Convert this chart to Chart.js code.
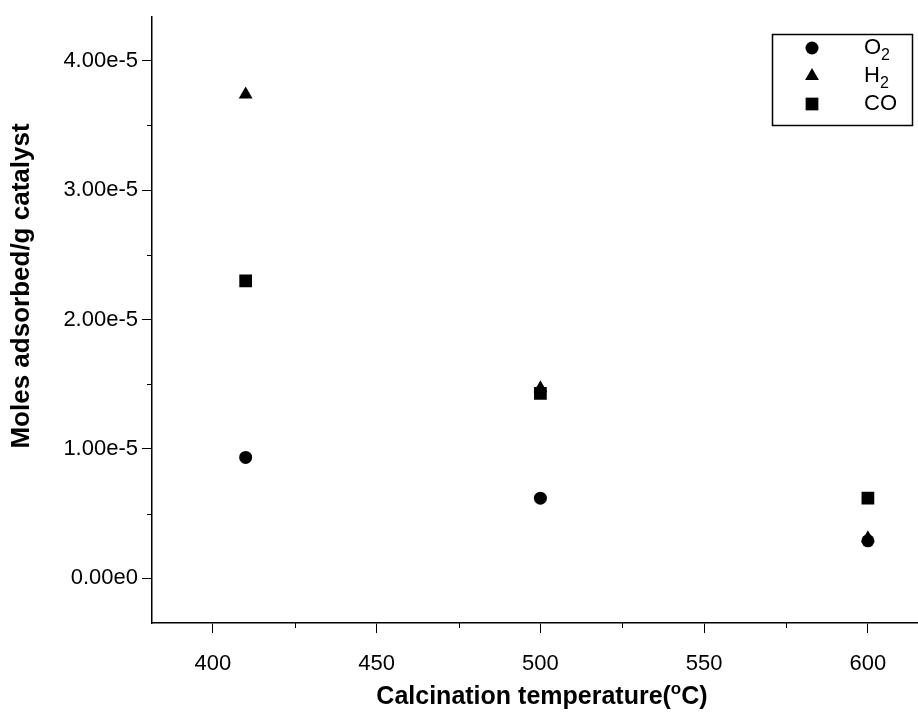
<!DOCTYPE html>
<html>
<head>
<meta charset="utf-8">
<script src="https://cdn.jsdelivr.net/npm/chart.js@4.4.1/dist/chart.umd.min.js"></script>
<style>
    html, body { margin: 0; padding: 0; background: #fff; }
    #wrap { width: 918px; height: 713px; position: relative; }
</style>
</head>
<body>
<div id="wrap"><canvas id="adsChart"></canvas></div>
<script>
// Calcination temperature (°C)
const temps = [410, 500, 600];

// Moles adsorbed per g catalyst
const o2Values = [0.935e-5, 0.62e-5, 0.29e-5];
const h2Values = [3.74e-5, 1.47e-5, 0.31e-5];
const coValues = [2.30e-5, 1.43e-5, 0.62e-5];

// axis ticks
const xMajorTicks = [400, 450, 500, 550, 600];
const xMinorTicks = [425, 475, 525, 575];
const yMajorTicks = [0, 1e-5, 2e-5, 3e-5, 4e-5];
const yMinorTicks = [0.5e-5, 1.5e-5, 2.5e-5, 3.5e-5];

const FONT = 'Liberation Sans, Arial, sans-serif';

function toPoints(values) {
    return temps.map((t, i) => ({ x: t, y: values[i] }));
}

function fmtExp(v) {
    return v.toExponential(2).replace('e+', 'e');
}

// minor ticks, axis titles and the boxed legend
const extras = {
    id: 'extras',
    afterDraw(chart) {
        const ctx = chart.ctx;
        const xs = chart.scales.x;
        const ys = chart.scales.y;
        const area = chart.chartArea;

        ctx.save();
        ctx.strokeStyle = '#000';
        ctx.lineWidth = 1;
        ctx.beginPath();
        xMinorTicks.forEach(v => {
            const px = Math.round(xs.getPixelForValue(v)) + 0.5;
            ctx.moveTo(px, area.bottom);
            ctx.lineTo(px, area.bottom + 5);
        });
        yMinorTicks.forEach(v => {
            const py = Math.round(ys.getPixelForValue(v)) + 0.5;
            ctx.moveTo(area.left, py);
            ctx.lineTo(area.left - 5, py);
        });
        ctx.stroke();

        ctx.fillStyle = '#000';

        // x title with superscript
        const big = 'bold 25px ' + FONT;
        const small = 'bold 17px ' + FONT;
        const p1 = 'Calcination temperature(';
        const p3 = 'C)';
        ctx.textBaseline = 'alphabetic';
        ctx.font = big;
        const w1 = ctx.measureText(p1).width;
        const w3 = ctx.measureText(p3).width;
        ctx.font = small;
        const w2 = ctx.measureText('o').width;
        let tx = 542 - (w1 + w2 + w3) / 2;
        const ty = 704;
        ctx.textAlign = 'left';
        ctx.font = big;
        ctx.fillText(p1, tx, ty);
        tx += w1;
        ctx.font = small;
        ctx.fillText('o', tx, ty - 10);
        tx += w2;
        ctx.font = big;
        ctx.fillText(p3, tx, ty);

        // y title
        ctx.save();
        ctx.translate(29, 286);
        ctx.rotate(-Math.PI / 2);
        ctx.textAlign = 'center';
        ctx.font = 'bold 26px ' + FONT;
        ctx.fillText('Moles adsorbed/g catalyst', 0, 0);
        ctx.restore();

        // legend
        ctx.lineWidth = 1.5;
        ctx.strokeRect(772.5, 34.5, 140, 91);
        const items = [
            { base: 'O', sub: '2', style: 'circle', radius: 6.5, y: 48 },
            { base: 'H', sub: '2', style: 'triangle', radius: 8, y: 76 },
            { base: 'CO', sub: '', style: 'rect', radius: 9, y: 104 }
        ];
        items.forEach(it => {
            ctx.fillStyle = '#000';
            ctx.strokeStyle = '#000';
            Chart.helpers.drawPoint(ctx, { pointStyle: it.style, radius: it.radius, rotation: 0, borderWidth: 0 }, 812, it.y);
            ctx.textAlign = 'left';
            ctx.textBaseline = 'middle';
            ctx.font = '22px ' + FONT;
            ctx.fillText(it.base, 864, it.y);
            if (it.sub) {
                const bw = ctx.measureText(it.base).width;
                ctx.font = '16px ' + FONT;
                ctx.fillText(it.sub, 864 + bw, it.y + 8);
            }
        });
        ctx.restore();
    }
};

const ctx = document.getElementById('adsChart').getContext('2d');

new Chart(ctx, {
    type: 'scatter',
    data: {
        datasets: [
            {
                label: 'O2',
                data: toPoints(o2Values),
                pointStyle: 'circle',
                pointRadius: 6.5,
                backgroundColor: '#000',
                borderColor: '#000',
                borderWidth: 0,
                order: 0
            },
            {
                label: 'H2',
                data: toPoints(h2Values),
                pointStyle: 'triangle',
                pointRadius: 8,
                backgroundColor: '#000',
                borderColor: '#000',
                borderWidth: 0,
                order: 2
            },
            {
                label: 'CO',
                data: toPoints(coValues),
                pointStyle: 'rect',
                pointRadius: 9,
                backgroundColor: '#000',
                borderColor: '#000',
                borderWidth: 0,
                order: 1
            }
        ]
    },
    options: {
        responsive: true,
        maintainAspectRatio: false,
        animation: false,
        layout: {
            autoPadding: false,
            padding: { top: 12, right: 0, left: 0, bottom: 0 }
        },
        plugins: {
            legend: { display: false },
            tooltip: { enabled: false }
        },
        scales: {
            x: {
                type: 'linear',
                min: 381.4,
                max: 615.3,
                afterBuildTicks: (scale) => {
                    scale.ticks = xMajorTicks.map(v => ({ value: v }));
                },
                afterFit: (scale) => {
                    scale.height = 90;
                    scale.paddingLeft = 0;
                    scale.paddingRight = 0;
                },
                border: { display: true, color: '#000', width: 1.5 },
                grid: {
                    drawOnChartArea: false,
                    drawTicks: true,
                    tickLength: 10,
                    color: '#000'
                },
                ticks: {
                    color: '#000',
                    padding: 18,
                    maxRotation: 0,
                    font: { family: FONT, size: 22 },
                    callback: (v) => String(v)
                }
            },
            y: {
                type: 'linear',
                min: -0.345e-5,
                max: 4.337e-5,
                afterBuildTicks: (scale) => {
                    scale.ticks = yMajorTicks.map(v => ({ value: v }));
                },
                afterFit: (scale) => { scale.width = 152; },
                border: { display: true, color: '#000', width: 1.5 },
                grid: {
                    drawOnChartArea: false,
                    drawTicks: true,
                    tickLength: 10,
                    color: '#000'
                },
                ticks: {
                    color: '#000',
                    padding: 4,
                    font: { family: FONT, size: 22 },
                    callback: (v) => fmtExp(v)
                }
            }
        }
    },
    plugins: [extras]
});
</script>
</body>
</html>
